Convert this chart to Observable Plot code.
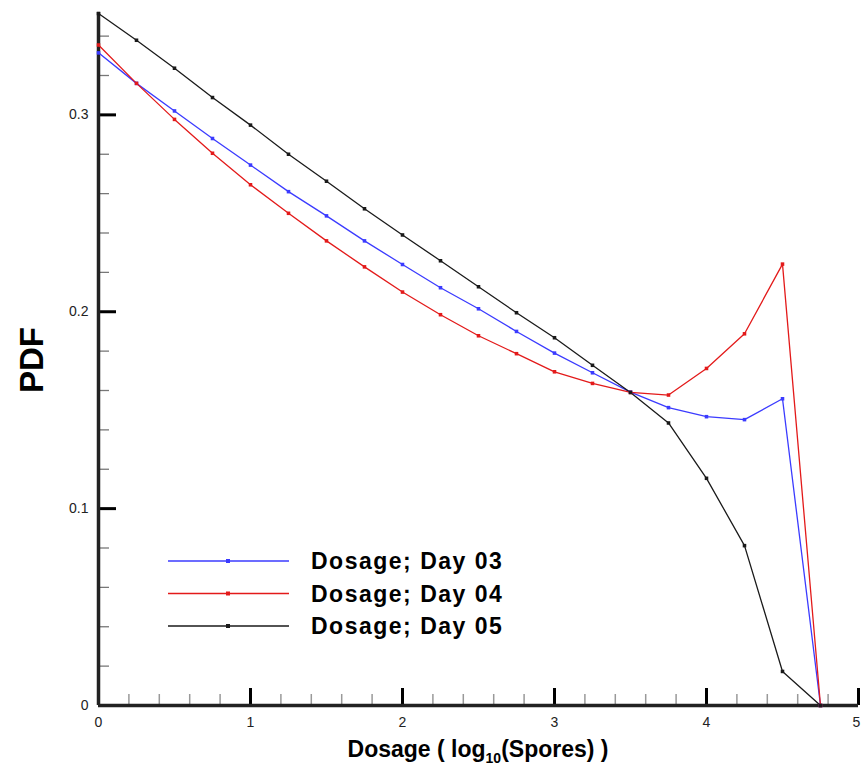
<!DOCTYPE html>
<html><head><meta charset="utf-8">
<script src="https://cdn.jsdelivr.net/npm/d3@7"></script>
<script src="https://cdn.jsdelivr.net/npm/@observablehq/plot@0.6"></script>
<style>
body{margin:0;background:#fff;font-family:"Liberation Sans",Arial,Helvetica,sans-serif}
#wrap{position:relative;width:861px;height:767px}
#legend{position:absolute;left:0;top:0}
</style>
</head><body><div id="wrap"></div>
<script>
const dosage = [0,0.25,0.5,0.75,1,1.25,1.5,1.75,2,2.25,2.5,2.75,3,3.25,3.5,3.75,4,4.25,4.5,4.75];
const day03 = [0.3315,0.316,0.302,0.288,0.2745,0.261,0.2487,0.236,0.224,0.2122,0.2015,0.190,0.179,0.169,0.1592,0.1513,0.1467,0.1452,0.1558,0];
const day04 = [0.3355,0.316,0.2977,0.2805,0.2645,0.250,0.236,0.2228,0.210,0.1985,0.1878,0.1787,0.1695,0.1636,0.159,0.1577,0.1712,0.1888,0.2242,0];
const day05 = [0.3515,0.3379,0.3237,0.3088,0.2948,0.280,0.2663,0.2523,0.239,0.2259,0.2127,0.1995,0.1868,0.1728,0.159,0.1435,0.1154,0.0812,0.0173,0];
const seriesNames = ["Dosage; Day 03","Dosage; Day 04","Dosage; Day 05"];
const seriesColors = ["#3b3bff","#e31a1a","#1a1a1a"];
const xMajor = [0,1,2,3,4,5];
const xTickLabels = ["0","1","2","3","4","5"];
const xMinor = [0.2,0.4,0.6,0.8,1.2,1.4,1.6,1.8,2.2,2.4,2.6,2.8,3.2,3.4,3.6,3.8,4.2,4.4,4.6,4.8];
const yMajor = [0,0.1,0.2,0.3];
const yTickLabels = ["0","0.1","0.2","0.3"];
const yMinor = [0.02,0.04,0.06,0.08,0.12,0.14,0.16,0.18,0.22,0.24,0.26,0.28,0.32,0.34];
const xTitle = ["Dosage ( log","10","(Spores) )"];
const yTitle = "PDF";

const data = [];
[day03, day04, day05].forEach((vals, i) => vals.forEach((v, j) => data.push({x: dosage[j], y: v, series: seriesNames[i]})));

const W = 861, H = 767, mL = 98, mR = 3, mT = 12, mB = 62;
const iw = W - mL - mR, ih = H - mT - mB;
const fontFam = '"Liberation Sans", Arial, Helvetica, sans-serif';
const xFmt = d => xTickLabels[xMajor.indexOf(d)];

const chart = Plot.plot({
  width: W, height: H,
  marginLeft: mL, marginRight: mR, marginTop: mT, marginBottom: mB,
  style: {fontFamily: fontFam, fontSize: "14px", color: "#222", background: "#fff", overflow: "visible"},
  x: {domain: [0, 5]},
  y: {domain: [0, 0.352]},
  color: {domain: seriesNames, range: seriesColors},
  marks: [
    Plot.axisX(xMajor.slice(0, -1), {tickSize: 0, tickPadding: 12, label: null, fontSize: 14, tickFormat: xFmt}),
    Plot.axisX(xMajor.slice(-1), {tickSize: 0, tickPadding: 12, label: null, fontSize: 14, tickFormat: xFmt, dx: -2}),
    Plot.axisY(yMajor, {tickSize: 0, tickPadding: 10, label: null, fontSize: 14, tickFormat: (d) => yTickLabels[yMajor.indexOf(d)]}),
    Plot.tickX(xMinor, {x: d => d, insetTop: ih - 11, stroke: "#999", strokeWidth: 1.5}),
    Plot.tickX(xMajor, {x: d => d, insetTop: ih - 17, stroke: "#000", strokeWidth: 3}),
    Plot.tickY(yMinor, {y: d => d, insetRight: iw - 11, stroke: "#777", strokeWidth: 1.3}),
    Plot.tickY(yMajor, {y: d => d, insetRight: iw - 18, stroke: "#000", strokeWidth: 3}),
    Plot.ruleX([0], {strokeWidth: 3.5}),
    Plot.ruleY([0], {strokeWidth: 3.5}),
    Plot.line(data, {x: "x", y: "y", stroke: "series", strokeWidth: 1.3}),
    Plot.dot(data, {x: "x", y: "y", fill: "series", symbol: "square", r: 2})
  ]
});

const svg = d3.select(chart);
const xt = svg.append("text")
  .attr("x", mL + iw / 2).attr("y", 757)
  .attr("text-anchor", "middle")
  .style("font-family", fontFam).style("font-size", "23px").style("font-weight", "bold").attr("fill", "#000");
xt.append("tspan").text(xTitle[0]);
xt.append("tspan").attr("dy", 6).style("font-size", "14px").text(xTitle[1]);
xt.append("tspan").attr("dy", -6).text(xTitle[2]);

svg.append("text")
  .attr("transform", "translate(31,360) rotate(-90)")
  .attr("text-anchor", "middle").attr("dominant-baseline", "central")
  .style("font-family", fontFam).style("font-size", "33px").style("font-weight", "bold").attr("fill", "#000")
  .text(yTitle);

const wrap = document.getElementById("wrap");
wrap.appendChild(chart);

// legend overlay
const leg = d3.select(wrap).append("svg").attr("id", "legend").attr("width", W).attr("height", H);
seriesNames.forEach((name, i) => {
  const y = 561 + i * 32.5;
  leg.append("line").attr("x1", 168).attr("x2", 289).attr("y1", y).attr("y2", y)
    .attr("stroke", seriesColors[i]).attr("stroke-width", 1.3);
  leg.append("rect").attr("x", 226).attr("y", y - 2).attr("width", 4).attr("height", 4).attr("fill", seriesColors[i]);
  leg.append("text").attr("x", 311).attr("y", y + 8)
    .style("font-family", fontFam).style("font-size", "23px").style("font-weight", "bold")
    .style("letter-spacing", "1.5px").attr("fill", "#000").text(name);
});
</script>
</body></html>
